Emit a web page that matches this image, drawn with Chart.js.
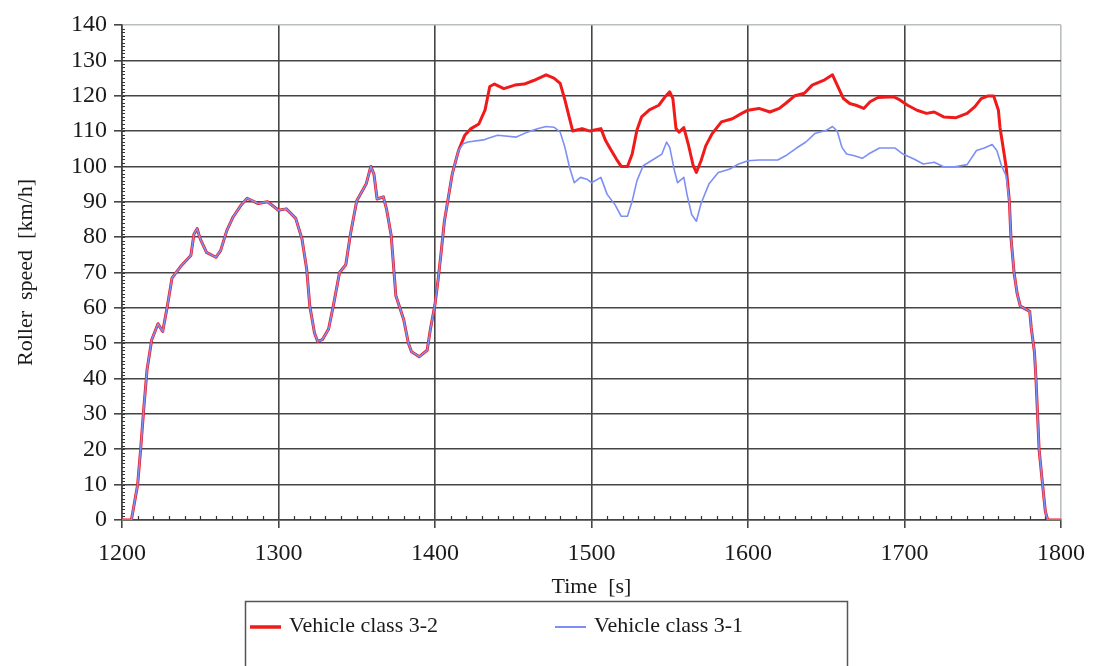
<!DOCTYPE html>
<html>
<head>
    <meta charset="utf-8" />
    <title>Roller speed</title>
    <style>
        body { margin: 0; background: #fff; }
        #wrap { position: relative; width: 1096px; height: 666px; }
    </style>
</head>
<body>
    <div id="wrap"><canvas id="speedChart"></canvas></div>

    <script src="https://cdn.jsdelivr.net/npm/chart.js@4.4.1/dist/chart.umd.min.js"></script>
    <script>
        // shared start of the run (both vehicles identical)
        const startTime = [1200, 1206, 1210, 1212, 1214, 1216, 1219, 1223, 1226, 1229, 1232, 1238, 1244, 1246, 1248, 1250, 1254, 1260, 1263, 1267,
            1271, 1276, 1280, 1287, 1293, 1300, 1305, 1311, 1315, 1318, 1320, 1323, 1325, 1328, 1332, 1335, 1339, 1343, 1346, 1350,
            1356, 1359, 1361, 1363, 1367, 1369, 1372, 1375, 1380, 1383, 1385, 1390, 1395, 1397, 1400, 1402, 1404, 1406, 1411, 1415];
        const startSpeed = [0, 0, 10, 20.5, 32, 42.5, 51, 55.5, 53.3, 60.5, 68.5, 72, 74.8, 80.9, 82.4, 79.5, 75.7, 74.3, 76.2, 81.9,
            85.7, 89, 91, 89.5, 90, 87.6, 88, 85.3, 79.5, 71, 60.5, 52.9, 50.5, 51, 54, 60.5, 70, 72.2, 80.9, 90.3,
            95, 100, 97.8, 90.8, 91.4, 88, 80.5, 63.4, 56.7, 50, 47.6, 46.2, 48, 53.8, 61, 68, 76, 84.5, 97.8, 104.5];

        // vehicle class 3-2
        const time32 = [1419, 1423, 1428, 1432, 1435, 1438, 1444, 1451, 1457, 1463, 1471, 1476, 1480, 1483, 1486, 1488, 1494, 1499, 1506, 1509,
            1512, 1516, 1519, 1523, 1526, 1529, 1532, 1537, 1543, 1547, 1550, 1552, 1554, 1556, 1559, 1562, 1565, 1567, 1570, 1573,
            1577, 1583, 1590, 1596, 1600, 1607, 1614, 1620, 1624, 1630, 1636, 1641, 1649, 1654, 1657, 1661, 1665, 1669, 1674, 1678,
            1683, 1693, 1697, 1702, 1708, 1714, 1719, 1725, 1733, 1740, 1745, 1749, 1753, 1757, 1760, 1761, 1763, 1765];
        const speed32 = [108.8, 110.7, 112, 116, 122.6, 123.3, 122, 123, 123.3, 124.3, 125.9, 125, 123.5, 118.8, 113.5, 110, 110.7, 110, 110.7, 107.3,
            105, 102, 100, 100, 103.5, 110.2, 114, 116, 117.3, 119.7, 121.1, 119.2, 110.7, 109.7, 111, 106, 100.2, 98.3, 101.6, 105.8,
            109.2, 112.6, 113.5, 115, 115.9, 116.4, 115.4, 116.4, 117.8, 120, 120.7, 123, 124.5, 125.9, 123, 119.2, 117.8, 117.3, 116.4, 118.3,
            119.5, 119.7, 118.8, 117.3, 115.9, 115, 115.4, 114, 113.8, 115, 116.9, 119.2, 119.9, 119.9, 115.9, 111.1, 105.4, 99.7];

        // vehicle class 3-1
        const time31 = [1418, 1421, 1431, 1434, 1440, 1452, 1459, 1466, 1471, 1476, 1480, 1483, 1486, 1489, 1493, 1497, 1500, 1506, 1510, 1515,
            1519, 1523, 1526, 1529, 1533, 1540, 1545, 1548, 1550, 1553, 1555, 1559, 1561, 1564, 1567, 1570, 1575, 1581, 1588, 1594,
            1600, 1607, 1619, 1624, 1631, 1637, 1643, 1650, 1654, 1657, 1660, 1663, 1668, 1673, 1677, 1684, 1694, 1699, 1706, 1712,
            1719, 1725, 1732, 1740, 1746, 1751, 1756, 1759, 1762, 1765];
        const speed31 = [106.4, 106.9, 107.5, 108, 108.8, 108.3, 109.7, 110.7, 111.3, 111.1, 109.7, 105.4, 99.7, 95.4, 96.9, 96.4, 95.4, 96.9, 92.1, 89.2,
            85.9, 85.9, 90.2, 95.9, 100.2, 102.1, 103.5, 106.9, 105.4, 98.8, 95.4, 96.9, 92.1, 86.4, 84.5, 89.5, 95, 98.3, 99.2, 100.7,
            101.6, 101.8, 101.8, 103, 105.2, 106.9, 109.4, 110.2, 111.3, 110, 105.4, 103.5, 103, 102.3, 103.5, 105.2, 105.2, 103.5, 102.1, 100.7,
            101.2, 99.9, 99.9, 100.5, 104.5, 105.2, 106.2, 104.5, 100.2, 97.3];

        // shared end of the run
        const endTime = [1767, 1768, 1770, 1772, 1774, 1780, 1781, 1783, 1784, 1785, 1786, 1788, 1790, 1791.5, 1800];
        const endSpeed = [90.2, 80, 70, 64, 60.5, 59, 54.3, 47.6, 40, 30, 20, 11, 2.4, 0, 0];

        const xTicks = [1200, 1300, 1400, 1500, 1600, 1700, 1800];
        const seriesNames = ['Vehicle class 3-2', 'Vehicle class 3-1'];

        const FONT = "'Liberation Serif', 'DejaVu Serif', serif";
        const GRID = '#454545';
        const LIGHT = '#b9bebe';

        function toPoints(times, speeds) {
            return times.map((t, i) => ({ x: t, y: speeds[i] }));
        }

        function buildSeries(times, speeds) {
            return toPoints(startTime, startSpeed)
                .concat(toPoints(times, speeds))
                .concat(toPoints(endTime, endSpeed));
        }

        // small minor tick marks along both axes
        const minorTicks = {
            id: 'minorTicks',
            beforeDatasetsDraw(chart) {
                const ctx = chart.ctx;
                const xs = chart.scales.x, ys = chart.scales.y;
                const area = chart.chartArea;
                ctx.save();
                ctx.strokeStyle = '#333';
                ctx.lineWidth = 1.2;
                ctx.beginPath();
                for (let t = 1210; t < 1800; t += 10) {
                    if (t % 100 === 0) continue;
                    const px = Math.round(xs.getPixelForValue(t)) + 0.5;
                    ctx.moveTo(px, area.bottom);
                    ctx.lineTo(px, area.bottom - 4);
                }
                for (let v = 1; v < 140; v += 1) {
                    const py = Math.round(ys.getPixelForValue(v)) + 0.5;
                    ctx.moveTo(area.left, py);
                    ctx.lineTo(area.left + 3, py);
                }
                ctx.stroke();
                ctx.restore();
            }
        };

        // boxed legend below the chart, as in the original
        const boxedLegend = {
            id: 'boxedLegend',
            afterDraw(chart) {
                const ctx = chart.ctx;
                ctx.save();
                ctx.strokeStyle = '#555';
                ctx.lineWidth = 1.5;
                ctx.strokeRect(245.5, 601.5, 602, 90);

                const items = [
                    { x: 250, color: '#f01a1a', width: 3.5 },
                    { x: 555, color: '#7d8ff5', width: 2 }
                ];
                ctx.font = '22px ' + FONT;
                ctx.textBaseline = 'middle';
                ctx.fillStyle = '#1a1a1a';
                items.forEach((item, i) => {
                    ctx.strokeStyle = item.color;
                    ctx.lineWidth = item.width;
                    ctx.beginPath();
                    ctx.moveTo(item.x, 627);
                    ctx.lineTo(item.x + 31, 627);
                    ctx.stroke();
                    ctx.fillText(seriesNames[i], item.x + 39, 626);
                });
                ctx.restore();
            }
        };

        function drawChart() {
            const ctx = document.getElementById('speedChart');
            new Chart(ctx, {
                type: 'line',
                data: {
                    datasets: [
                        {
                            label: seriesNames[0],
                            data: buildSeries(time32, speed32),
                            borderColor: '#f01a1a',
                            borderWidth: 3,
                            order: 1
                        },
                        {
                            label: seriesNames[1],
                            data: buildSeries(time31, speed31),
                            borderColor: '#7d8ff5',
                            borderWidth: 1.6,
                            order: 0
                        }
                    ]
                },
                options: {
                    responsive: false,
                    animation: false,
                    parsing: false,
                    elements: {
                        point: { radius: 0 },
                        line: { tension: 0, borderJoinStyle: 'round' }
                    },
                    layout: { padding: { top: 25, right: 35, bottom: 66, left: 0 } },
                    plugins: {
                        legend: { display: false },
                        tooltip: { enabled: false }
                    },
                    scales: {
                        x: {
                            type: 'linear',
                            min: 1200,
                            max: 1800,
                            afterBuildTicks: (scale) => { scale.ticks = xTicks.map((v) => ({ value: v })); },
                            afterFit: (scale) => { scale.height = 80; },
                            ticks: {
                                color: '#1a1a1a',
                                font: { family: FONT, size: 24 },
                                padding: 11,
                                maxRotation: 0,
                                callback: (v) => String(v)
                            },
                            grid: {
                                color: (c) => (c.tick && c.tick.value === 1800 ? LIGHT : GRID),
                                tickColor: GRID,
                                lineWidth: 1.6,
                                tickLength: 8
                            },
                            border: { color: GRID, width: 1.6 },
                            title: {
                                display: true,
                                text: 'Time  [s]',
                                color: '#1a1a1a',
                                font: { family: FONT, size: 22 },
                                padding: { top: 0, bottom: 0 }
                            }
                        },
                        y: {
                            min: 0,
                            max: 140,
                            afterFit: (scale) => { scale.width = 122; },
                            ticks: {
                                stepSize: 10,
                                color: '#1a1a1a',
                                font: { family: FONT, size: 24 },
                                padding: 7
                            },
                            grid: {
                                color: (c) => (c.tick && c.tick.value === 140 ? LIGHT : GRID),
                                tickColor: GRID,
                                lineWidth: 1.6,
                                tickLength: 8
                            },
                            border: { color: GRID, width: 1.6 },
                            title: {
                                display: true,
                                text: 'Roller  speed  [km/h]',
                                color: '#1a1a1a',
                                font: { family: FONT, size: 22 },
                                padding: { top: 13, bottom: 0 }
                            }
                        }
                    }
                },
                plugins: [minorTicks, boxedLegend]
            });
        }

        canvasSetup();
        function canvasSetup() {
            const c = document.getElementById('speedChart');
            c.width = 1096;
            c.height = 666;
            drawChart();
        }
    </script>
</body>
</html>
